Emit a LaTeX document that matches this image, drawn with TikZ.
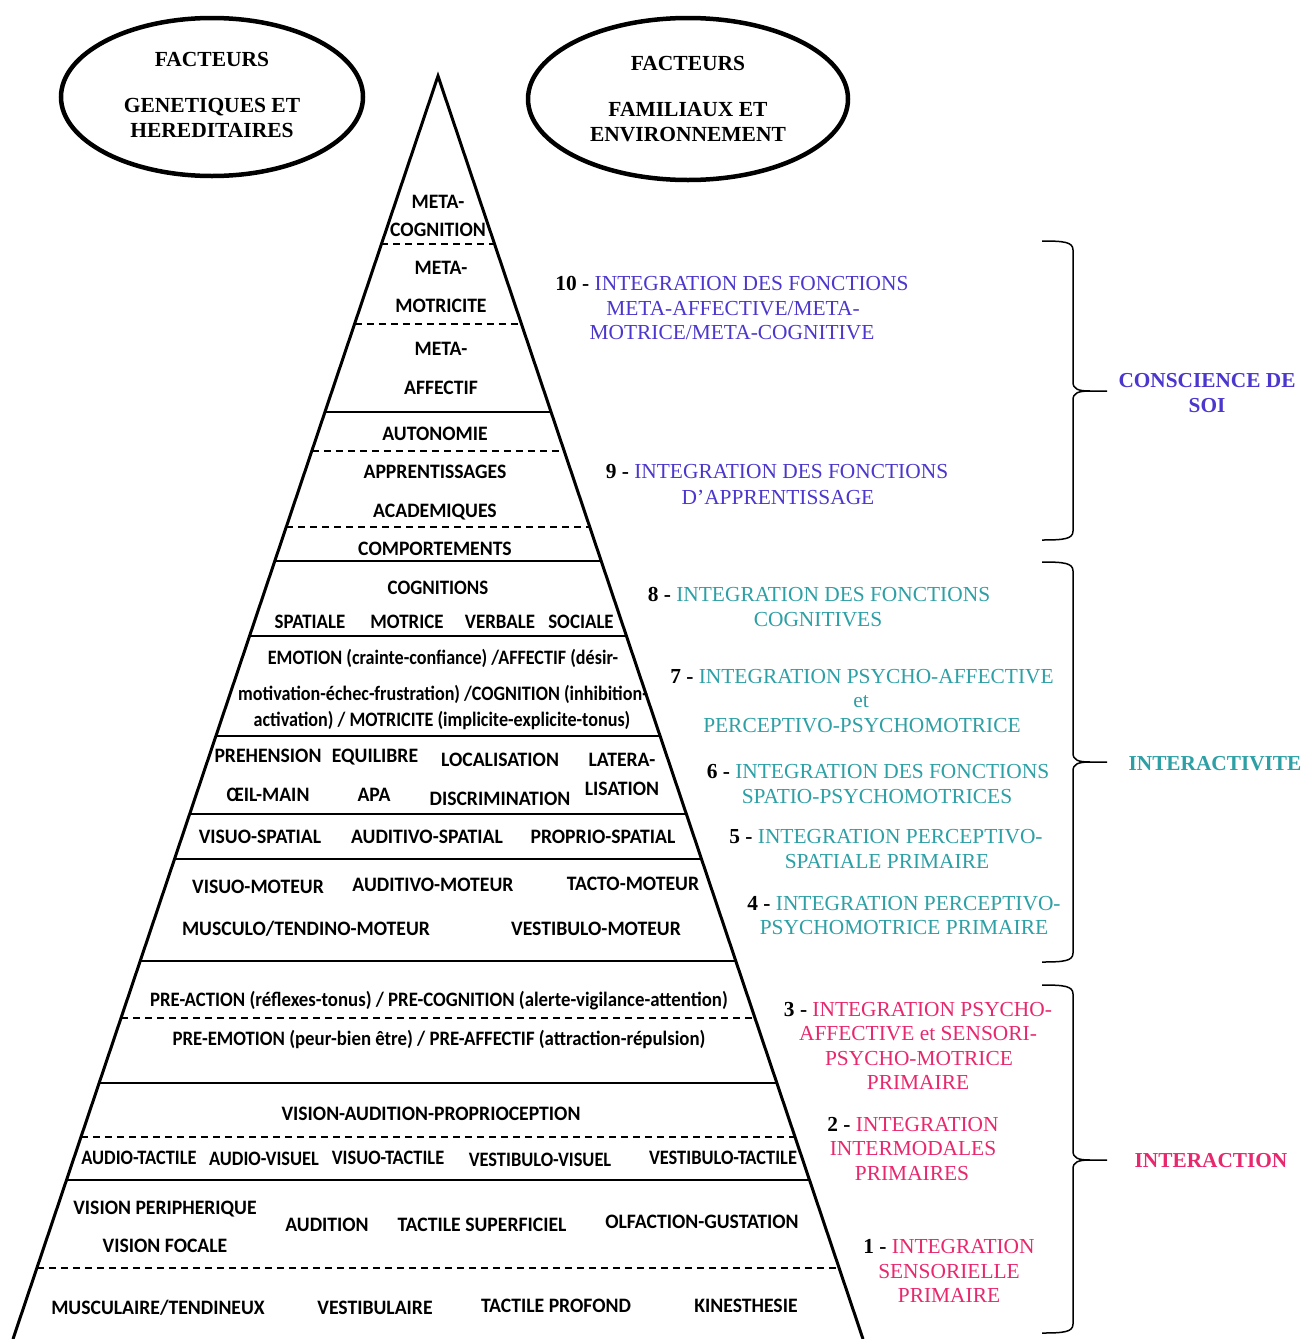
\documentclass[tikz,border=0pt]{standalone}
\usepackage{fontspec}
\usepackage{graphicx}
\setmainfont{Liberation Serif}
\newfontfamily\calfont[FakeStretch=0.96]{Carlito}
\usetikzlibrary{calc,shapes.geometric}
\definecolor{cblue}{RGB}{75,55,205}
\definecolor{cteal}{RGB}{45,160,165}
\definecolor{cpink}{RGB}{232,40,110}
\newcommand{\hsep}[2]{\draw[#2] ($(A)!{(#1-76)/1263}!(BL)$) -- ($(A)!{(#1-76)/1263}!(BR)$);}
\newcommand{\wbrace}[4]{% top y, bottom y, mid y, left x
  \draw[bracestyle] (#4,#1) .. controls (#4+22,#1) and (#4+31,#1+1) .. (#4+31,#1+9)
    -- (#4+31,#3-9) .. controls (#4+31,#3-2) and (#4+36,#3) .. (#4+48,#3) -- (#4+65,#3);
  \draw[bracestyle] (#4+48,#3) .. controls (#4+36,#3) and (#4+31,#3+2) .. (#4+31,#3+9)
    -- (#4+31,#2-9) .. controls (#4+31,#2-1) and (#4+22,#2) .. (#4,#2);}
\newcommand{\sqz}[2]{\scalebox{#1}[1]{#2}}
\begin{document}
\begin{tikzpicture}[x=1pt,y=-1pt,
  ptx/.style={font=\calfont\bfseries\fontsize{20.5}{24}\selectfont, inner sep=0pt, anchor=base},
  stx/.style={font=\fontsize{21.4}{24}\selectfont, inner sep=0pt, anchor=base},
  gtx/.style={font=\bfseries\fontsize{21.3}{24}\selectfont, inner sep=0pt, anchor=base},
  etx/.style={font=\bfseries\fontsize{21.5}{24}\selectfont, inner sep=0pt, anchor=base},
  edgeline/.style={line width=3pt, line join=miter},
  solidsep/.style={line width=2.8pt},
  dashsep/.style={line width=1.6pt, dash pattern=on 7pt off 5pt},
  bracestyle/.style={line width=1.5pt},
  ellipsebox/.style={ellipse, draw, line width=4.5pt, inner sep=0pt},
]
\useasboundingbox[fill=white] (0,0) rectangle (1316,1339);

% ellipses
\node[ellipsebox, minimum width=302pt, minimum height=158pt] (eg) at (212,97) {};
\node[ellipsebox, minimum width=320pt, minimum height=162pt] (ef) at (688,99) {};
\node[etx] (eg1) at (212,66) {FACTEURS};
\node[etx] (eg2) at (212,112) {GENETIQUES ET};
\node[etx] (eg3) at (212,137) {HEREDITAIRES};
\node[etx] (ef1) at (688,70) {FACTEURS};
\node[etx] (ef2) at (688,116) {FAMILIAUX ET};
\node[etx] (ef3) at (688,141) {ENVIRONNEMENT};

% pyramid
\coordinate (A) at (438,76);
\coordinate (BL) at (13,1339);
\coordinate (BR) at (863,1339);
\draw[edgeline] (BL) -- (A) -- (BR);
\foreach \yy in {244,324,451,527,1018,1137,1268} {\hsep{\yy}{dashsep}}
\foreach \yy in {412,561,636,736,814,859,961,1083,1180} {\hsep{\yy}{solidsep}}

% pyramid texts
\node[ptx] (p1a) at (438,208) {META-};
\node[ptx] (p1b) at (438,236) {COGNITION};
\node[ptx] (p2a) at (441,274) {META-};
\node[ptx] (p2b) at (441,312) {MOTRICITE};
\node[ptx] (p3a) at (441,355) {META-};
\node[ptx] (p3b) at (441,394) {AFFECTIF};
\node[ptx] (p4) at (435,440) {AUTONOMIE};
\node[ptx] (p5a) at (435,478) {APPRENTISSAGES};
\node[ptx] (p5b) at (435,517) {ACADEMIQUES};
\node[ptx] (p6) at (435,555) {COMPORTEMENTS};
\node[ptx] (p7) at (438,594) {\sqz{0.96}{COGNITIONS}};
\node[ptx] (p7a) at (310,628) {\sqz{0.96}{SPATIALE}};
\node[ptx] (p7b) at (407,628) {\sqz{0.96}{MOTRICE}};
\node[ptx] (p7c) at (500,628) {\sqz{0.96}{VERBALE}};
\node[ptx] (p7d) at (581,628) {\sqz{0.96}{SOCIALE}};
\node[ptx] (p8a) at (443,664) {\sqz{0.92}{EMOTION (crainte-confiance) /AFFECTIF (désir-}};
\node[ptx] (p8b) at (443,700) {\sqz{0.92}{motivation-échec-frustration) /COGNITION (inhibition-}};
\node[ptx] (p8c) at (442,726) {\sqz{0.92}{activation) / MOTRICITE (implicite-explicite-tonus)}};
\node[ptx] (p9a) at (268,762) {PREHENSION};
\node[ptx] (p9b) at (375,762) {EQUILIBRE};
\node[ptx] (p9c) at (500,766) {LOCALISATION};
\node[ptx] (p9d) at (622,766) {LATERA-};
\node[ptx] (p9e) at (268,801) {ŒIL-MAIN};
\node[ptx] (p9f) at (374,801) {APA};
\node[ptx] (p9g) at (500,805) {DISCRIMINATION};
\node[ptx] (p9h) at (622,795) {LISATION};
\node[ptx] (p10a) at (260,843) {VISUO-SPATIAL};
\node[ptx] (p10b) at (427,843) {AUDITIVO-SPATIAL};
\node[ptx] (p10c) at (603,843) {PROPRIO-SPATIAL};
\node[ptx] (p11a) at (258,893) {VISUO-MOTEUR};
\node[ptx] (p11b) at (433,891) {AUDITIVO-MOTEUR};
\node[ptx] (p11c) at (633,890) {TACTO-MOTEUR};
\node[ptx] (p11d) at (306,935) {MUSCULO/TENDINO-MOTEUR};
\node[ptx] (p11e) at (596,935) {VESTIBULO-MOTEUR};
\node[ptx] (p12a) at (439,1006) {\sqz{0.955}{PRE-ACTION (réflexes-tonus) / PRE-COGNITION (alerte-vigilance-attention)}};
\node[ptx] (p12b) at (439,1045) {\sqz{0.955}{PRE-EMOTION (peur-bien être) / PRE-AFFECTIF (attraction-répulsion)}};
\node[ptx] (p13) at (431,1120) {VISION-AUDITION-PROPRIOCEPTION};
\node[ptx] (p13a) at (139,1164) {\sqz{0.935}{AUDIO-TACTILE}};
\node[ptx] (p13b) at (264,1165) {\sqz{0.935}{AUDIO-VISUEL}};
\node[ptx] (p13c) at (388,1164) {\sqz{0.935}{VISUO-TACTILE}};
\node[ptx] (p13d) at (540,1166) {\sqz{0.935}{VESTIBULO-VISUEL}};
\node[ptx] (p13e) at (723,1164) {\sqz{0.935}{VESTIBULO-TACTILE}};
\node[ptx] (p14a) at (165,1214) {VISION PERIPHERIQUE};
\node[ptx] (p14b) at (327,1231) {AUDITION};
\node[ptx] (p14c) at (482,1231) {TACTILE SUPERFICIEL};
\node[ptx] (p14d) at (702,1228) {OLFACTION-GUSTATION};
\node[ptx] (p14e) at (165,1252) {VISION FOCALE};
\node[ptx] (p15a) at (158,1314) {MUSCULAIRE/TENDINEUX};
\node[ptx] (p15b) at (375,1314) {VESTIBULAIRE};
\node[ptx] (p15c) at (556,1312) {TACTILE PROFOND};
\node[ptx] (p15d) at (746,1312) {KINESTHESIE};

% right labels
\node[stx] (l10a) at (732,290) {\textbf{10 -} \textcolor{cblue}{INTEGRATION DES FONCTIONS}};
\node[stx, text=cblue] (l10b) at (733,315) {META-AFFECTIVE/META-};
\node[stx, text=cblue] (l10c) at (732,339) {MOTRICE/META-COGNITIVE};
\node[stx] (l9a) at (777,478) {\textbf{9 -} \textcolor{cblue}{INTEGRATION DES FONCTIONS}};
\node[stx, text=cblue] (l9b) at (778,504) {D’APPRENTISSAGE};
\node[stx] (l8a) at (819,601) {\textbf{8 -} \textcolor{cteal}{INTEGRATION DES FONCTIONS}};
\node[stx, text=cteal] (l8b) at (818,626) {COGNITIVES};
\node[stx] (l7a) at (862,683) {\textbf{7 -} \textcolor{cteal}{INTEGRATION PSYCHO-AFFECTIVE}};
\node[stx, text=cteal] (l7b) at (861,707) {et};
\node[stx, text=cteal] (l7c) at (862,732) {PERCEPTIVO-PSYCHOMOTRICE};
\node[stx] (l6a) at (878,778) {\textbf{6 -} \textcolor{cteal}{INTEGRATION DES FONCTIONS}};
\node[stx, text=cteal] (l6b) at (877,803) {SPATIO-PSYCHOMOTRICES};
\node[stx] (l5a) at (886,843) {\textbf{5 -} \textcolor{cteal}{INTEGRATION PERCEPTIVO-}};
\node[stx, text=cteal] (l5b) at (887,868) {SPATIALE PRIMAIRE};
\node[stx] (l4a) at (904,910) {\textbf{4 -} \textcolor{cteal}{INTEGRATION PERCEPTIVO-}};
\node[stx, text=cteal] (l4b) at (904,934) {PSYCHOMOTRICE PRIMAIRE};
\node[stx] (l3a) at (918,1016) {\textbf{3 -} \textcolor{cpink}{INTEGRATION PSYCHO-}};
\node[stx, text=cpink] (l3b) at (918,1040) {AFFECTIVE et SENSORI-};
\node[stx, text=cpink] (l3c) at (919,1065) {PSYCHO-MOTRICE};
\node[stx, text=cpink] (l3d) at (918,1089) {PRIMAIRE};
\node[stx] (l2a) at (913,1131) {\textbf{2 -} \textcolor{cpink}{INTEGRATION}};
\node[stx, text=cpink] (l2b) at (913,1155) {INTERMODALES};
\node[stx, text=cpink] (l2c) at (912,1180) {PRIMAIRES};
\node[stx] (l1a) at (949,1253) {\textbf{1 -} \textcolor{cpink}{INTEGRATION}};
\node[stx, text=cpink] (l1b) at (949,1278) {SENSORIELLE};
\node[stx, text=cpink] (l1c) at (949,1302) {PRIMAIRE};

% braces
\wbrace{241}{540}{391}{1042}
\wbrace{562}{962}{762}{1042}
\wbrace{985}{1333}{1160}{1042}

% group labels
\node[gtx, text=cblue] (g1a) at (1207,387) {CONSCIENCE DE};
\node[gtx, text=cblue] (g1b) at (1207,412) {SOI};
\node[gtx, text=cteal] (g2) at (1215,770) {INTERACTIVITE};
\node[gtx, text=cpink] (g3) at (1211,1167) {INTERACTION};
\end{tikzpicture}
\end{document}
